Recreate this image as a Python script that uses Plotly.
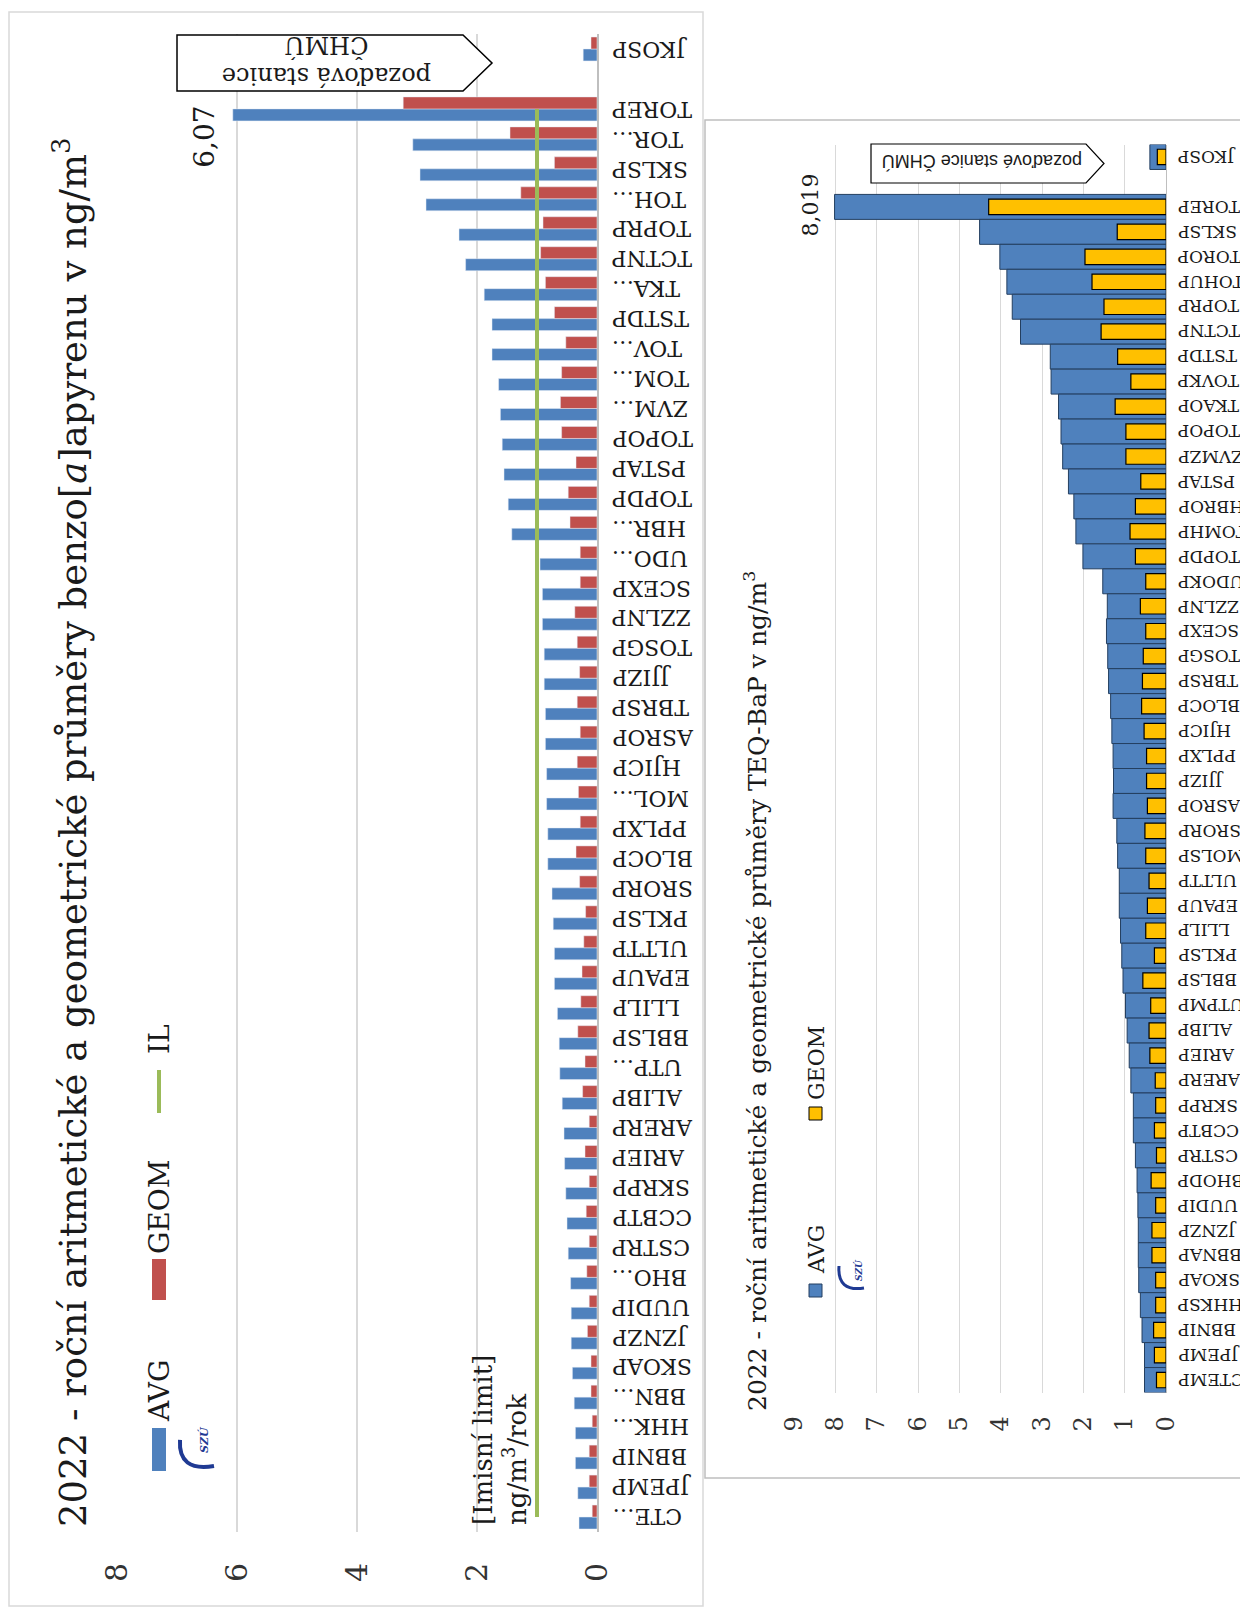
import plotly.graph_objects as go

W, H = 1248, 1610
# the page body adds an 8 px margin; positions below are screen pixels
OFF = 8

# ---- chart 1: benzo[a]pyren (top -> bottom, " " = empty slot)
stations_bap = ["JKOSP", " ", "TOREP", "TOR…", "SKLSP", "TOH…", "TOPRP", "TCTNP", "TKA…", "TSTDP",
                "TOV…", "TOM…", "ZVM…", "TOPOP", "PSTAP", "TOPDP", "HBR…", "UDO…", "SCEXP", "ZZLNP",
                "TOSGP", "JJIZP", "TBRSP", "ASROP", "HJICP", "MOL…", "PPLXP", "BLOCP", "SRORP", "PKLSP",
                "ULTTP", "EPAUP", "LLILP", "BBLSP", "UTP…", "ALIBP", "ARERP", "ARIEP", "SKRPP", "CCBTP",
                "CSTRP", "BHO…", "UUDIP", "JZNZP", "SKOAP", "BBN…", "HHK…", "BBNIP", "JPEMP", "CTE…"]
avg_bap = [0.23, None, 6.07, 3.07, 2.95, 2.85, 2.30, 2.19, 1.88, 1.75,
           1.75, 1.64, 1.61, 1.58, 1.55, 1.48, 1.42, 0.95, 0.91, 0.91,
           0.88, 0.88, 0.86, 0.86, 0.84, 0.84, 0.82, 0.82, 0.75, 0.73,
           0.71, 0.71, 0.66, 0.63, 0.62, 0.58, 0.55, 0.54, 0.52, 0.50,
           0.48, 0.44, 0.43, 0.43, 0.41, 0.38, 0.36, 0.36, 0.32, 0.30]
geom_bap = [0.10, None, 3.23, 1.45, 0.71, 1.27, 0.90, 0.94, 0.86, 0.71,
            0.52, 0.59, 0.61, 0.59, 0.35, 0.48, 0.45, 0.28, 0.28, 0.37,
            0.33, 0.29, 0.33, 0.28, 0.33, 0.31, 0.28, 0.35, 0.29, 0.19,
            0.22, 0.25, 0.27, 0.32, 0.20, 0.24, 0.13, 0.20, 0.13, 0.18,
            0.13, 0.17, 0.13, 0.16, 0.10, 0.10, 0.08, 0.13, 0.13, 0.08]
il_bap = [None, None] + [1] * 48

# ---- chart 2: TEQ-BaP
stations_teq = ["JKOSP", " ", "TOREP", "SKLSP", "TOROP", "TOHUP", "TOPRP", "TCTNP", "TSTDP", "TOVKP",
                "TKAOP", "TOPOP", "ZVMZP", "PSTAP", "HBROP", "TOMHP", "TOPDP", "UDOKP", "ZZLNP", "SCEXP",
                "TOSGP", "TBRSP", "BLOCP", "HJICP", "PPLXP", "JJIZP", "ASROP", "SRORP", "MOLSP", "ULTTP",
                "EPAUP", "LLILP", "PKLSP", "BBLSP", "UTPMP", "ALIBP", "ARIEP", "ARERP", "SKRPP", "CCBTP",
                "CSTRP", "BHODP", "UUDIP", "JZNZP", "BBNAP", "SKOAP", "HHKSP", "BBNIP", "JPEMP", "CTEMP"]
avg_teq = [0.39, None, 8.019, 4.51, 4.02, 3.85, 3.72, 3.52, 2.80, 2.78,
           2.60, 2.54, 2.50, 2.36, 2.23, 2.18, 2.01, 1.53, 1.42, 1.44,
           1.41, 1.39, 1.34, 1.31, 1.28, 1.27, 1.28, 1.19, 1.17, 1.13,
           1.13, 1.10, 1.07, 1.04, 0.98, 0.94, 0.89, 0.85, 0.79, 0.79,
           0.74, 0.70, 0.68, 0.67, 0.67, 0.66, 0.62, 0.58, 0.52, 0.52]
geom_teq = [0.21, None, 4.29, 1.18, 1.96, 1.79, 1.50, 1.57, 1.17, 0.85,
            1.23, 0.97, 0.97, 0.61, 0.74, 0.87, 0.74, 0.49, 0.62, 0.49,
            0.55, 0.57, 0.59, 0.53, 0.47, 0.47, 0.45, 0.51, 0.49, 0.41,
            0.45, 0.49, 0.28, 0.56, 0.37, 0.41, 0.39, 0.26, 0.25, 0.28,
            0.23, 0.36, 0.25, 0.34, 0.34, 0.25, 0.25, 0.30, 0.28, 0.23]

BLUE, RED, GREEN, GOLD = "#4F81BD", "#C0504D", "#9BBB59", "#FFC000"
NAVY = "#1F3A93"
SERIF = "DejaVu Serif"
TXT = "#1a1a1a"


def px(x):
    return (x - OFF) / W


def py(y):
    return 1 - (y - OFF) / H


fig = go.Figure()

# chart 1 bars (grouped by hand, barmode is shared with chart 2)
fig.add_trace(go.Bar(y=stations_bap, x=avg_bap, orientation="h", name="AVG",
                     marker_color=BLUE, width=0.4, offset=0, xaxis="x", yaxis="y"))
fig.add_trace(go.Bar(y=stations_bap, x=geom_bap, orientation="h", name="GEOM",
                     marker_color=RED, width=0.4, offset=-0.4, xaxis="x", yaxis="y"))
fig.add_trace(go.Scatter(y=stations_bap, x=il_bap, mode="lines", name="IL",
                         line=dict(color=GREEN, width=4), xaxis="x", yaxis="y"))

# chart 2 bars (overlapped)
fig.add_trace(go.Bar(y=stations_teq, x=avg_teq, orientation="h", name="AVG",
                     marker=dict(color=BLUE, line=dict(color="#243F60", width=1)),
                     width=1.0, xaxis="x2", yaxis="y2"))
fig.add_trace(go.Bar(y=stations_teq, x=geom_teq, orientation="h", name="GEOM",
                     marker=dict(color=GOLD, line=dict(color="#000000", width=1.2)),
                     width=0.62, xaxis="x2", yaxis="y2"))

shapes = []
# chart frames
shapes.append(dict(type="rect", xref="paper", yref="paper", layer="below",
                   x0=px(9), x1=px(703), y0=py(1606), y1=py(12),
                   line=dict(color="#D9D9D9", width=1.5), fillcolor="white"))
shapes.append(dict(type="rect", xref="paper", yref="paper", layer="below",
                   x0=px(705), x1=px(1270), y0=py(1478), y1=py(120),
                   line=dict(color="#BFBFBF", width=1.5), fillcolor="white"))

# legend marks chart 1
shapes.append(dict(type="rect", xref="paper", yref="paper", x0=px(152), x1=px(166),
                   y0=py(1471), y1=py(1428), line_width=0, fillcolor=BLUE))
shapes.append(dict(type="rect", xref="paper", yref="paper", x0=px(152), x1=px(166),
                   y0=py(1300), y1=py(1259), line_width=0, fillcolor=RED))
shapes.append(dict(type="line", xref="paper", yref="paper", x0=px(159), x1=px(159),
                   y0=py(1113), y1=py(1070), line=dict(color=GREEN, width=4)))
# legend marks chart 2
shapes.append(dict(type="rect", xref="paper", yref="paper", x0=px(809), x1=px(822),
                   y0=py(1297), y1=py(1284), line=dict(color="#243F60", width=1), fillcolor=BLUE))
shapes.append(dict(type="rect", xref="paper", yref="paper", x0=px(809), x1=px(822),
                   y0=py(1120), y1=py(1107), line=dict(color="black", width=1), fillcolor=GOLD))


def arrow_box(x0, x1, tip, y0, y1):
    ym = (y0 + y1) / 2
    pts = [(x0, y0), (x1, y0), (tip, ym), (x1, y1), (x0, y1)]
    return "M " + " L ".join(f"{px(a):.5f},{py(b):.5f}" for a, b in pts) + " Z"


def swoosh(a, c, b, w):
    # small crescent of the SZU logo
    return dict(type="path", xref="paper", yref="paper",
                path=f"M {px(a[0]):.5f},{py(a[1]):.5f} Q {px(c[0]):.5f},{py(c[1]):.5f} "
                     f"{px(b[0]):.5f},{py(b[1]):.5f}",
                line=dict(color=NAVY, width=w))


shapes.append(dict(type="path", xref="paper", yref="paper", path=arrow_box(177, 463, 492, 35, 91),
                   line=dict(color="black", width=1.5), fillcolor="white"))
shapes.append(dict(type="path", xref="paper", yref="paper", path=arrow_box(871, 1086, 1104, 144, 183),
                   line=dict(color="black", width=1.2), fillcolor="white"))
shapes.append(swoosh((180, 1440), (178, 1472), (214, 1466), 4))
shapes.append(swoosh((839, 1266), (837, 1292), (864, 1288), 3))

ann = []


def text(x, y, s, size, angle=-90, font=SERIF, color=TXT, **kw):
    ann.append(dict(x=px(x), y=py(y), xref="paper", yref="paper", text=s, showarrow=False,
                    textangle=angle, xanchor="center", yanchor="middle",
                    font=dict(family=font, size=size, color=color), **kw))


text(70, 832, "2022 - roční aritmetické a geometrické průměry benzo[<i>a</i>]apyrenu v ng/m<sup>3</sup>", 37)
text(159, 1391, "AVG", 28)
text(159, 1207, "GEOM", 28)
text(159, 1039, "IL", 28)
text(500, 1440, "[Imisní limit]<br>ng/m<sup>3</sup>/rok", 26, align="left")
text(204, 1440, "<b><i>SZÚ</i></b>", 11, color=NAVY)
text(327, 60, "pozaďová stanice<br>ČHMÚ", 24, angle=180)

text(756, 991, "2022 - roční aritmetické a geometrické průměry TEQ-BaP v ng/m<sup>3</sup>", 25)
text(816, 1250, "AVG", 22)
text(816, 1063, "GEOM", 22)
text(858, 1270, "<b><i>SZÚ</i></b>", 9, color=NAVY)
text(982, 162, "pozaďové stanice ČHMÚ", 18, angle=180, font="Liberation Sans")

# category labels (upside down, as in the source picture)
for s in stations_bap:
    if s.strip():
        ann.append(dict(x=0, y=s, xref="x", yref="y", text=s, showarrow=False, textangle=180,
                        xanchor="left", yanchor="middle", xshift=13,
                        font=dict(family=SERIF, size=22, color=TXT)))
for s in stations_teq:
    if s.strip():
        ann.append(dict(x=0, y=s, xref="x2", yref="y2", text=s, showarrow=False, textangle=180,
                        xanchor="left", yanchor="middle", xshift=10,
                        font=dict(family=SERIF, size=17, color=TXT)))

# value labels of the maximum
i1 = stations_bap.index("TOREP")
ann.append(dict(x=avg_bap[i1], y="TOREP", xref="x", yref="y", showarrow=False, textangle=-90,
                text=f"{avg_bap[i1]:.2f}".replace(".", ","), xshift=-28, yshift=-28,
                font=dict(family=SERIF, size=28, color=TXT)))
i2 = stations_teq.index("TOREP")
ann.append(dict(x=avg_teq[i2], y="TOREP", xref="x2", yref="y2", showarrow=False, textangle=-90,
                text=f"{avg_teq[i2]:.3f}".replace(".", ","), xshift=-24, yshift=2,
                font=dict(family=SERIF, size=22, color=TXT)))

n1, n2 = len(stations_bap), len(stations_teq)
fig.update_layout(
    width=W, height=H, margin=dict(l=0, r=0, t=0, b=0, autoexpand=False),
    paper_bgcolor="white", plot_bgcolor="rgba(0,0,0,0)",
    barmode="overlay", showlegend=False,
    shapes=shapes, annotations=ann,
    xaxis=dict(domain=[px(117), px(597)], range=[8, 0], dtick=2, tick0=0, anchor="y",
               showgrid=True, gridcolor="#D9D9D9", gridwidth=1.5, zeroline=False,
               tickangle=-90, ticklabelstandoff=24, automargin=False,
               tickfont=dict(family=SERIF, size=30, color="#333333")),
    yaxis=dict(domain=[py(1532), py(34)], type="category", categoryorder="array",
               categoryarray=stations_bap, range=[n1 - 0.5, -0.5], anchor="x", side="right",
               showticklabels=False, showgrid=False, showline=True, linecolor="#BFBFBF",
               linewidth=1.5, automargin=False),
    xaxis2=dict(domain=[px(794), px(1166)], range=[9, 0], dtick=1, tick0=0, anchor="y2",
                showgrid=True, gridcolor="#D9D9D9", gridwidth=1.2, zeroline=False,
                tickangle=-90, ticklabelstandoff=18, automargin=False,
                tickfont=dict(family=SERIF, size=24, color="#333333")),
    yaxis2=dict(domain=[py(1392.5), py(144.5)], type="category", categoryorder="array",
                categoryarray=stations_teq, range=[n2 - 0.5, -0.5], anchor="x2", side="right",
                showticklabels=False, showgrid=False, showline=True, linecolor="#BFBFBF",
                linewidth=1.2, automargin=False),
)

fig.write_html("out.html")
